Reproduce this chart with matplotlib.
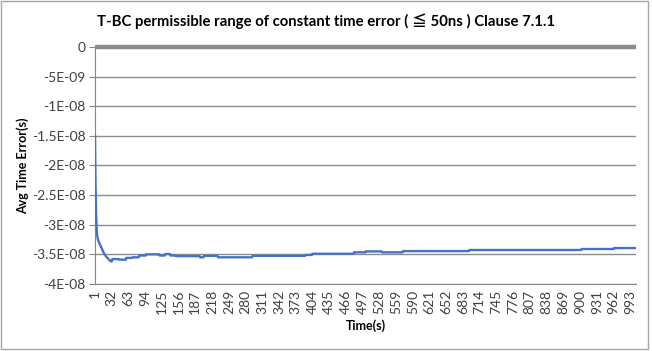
import numpy as np
import matplotlib
matplotlib.use("Agg")
import matplotlib.pyplot as plt
from matplotlib.patches import Rectangle

plt.rcParams['font.family'] = ['Lato', 'Noto Sans CJK JP', 'DejaVu Sans']

# first samples read one by one (ns)
head_ns = [-15.0, -23.0, -28.0, -30.5, -31.8, -32.3, -32.6, -32.9, -33.1, -33.3,
           -33.5, -33.7, -33.9, -34.1, -34.3, -34.5, -34.7, -34.9, -35.0, -35.1,
           -35.3, -35.4, -35.5, -35.6, -35.7, -35.8, -35.9, -36.0, -36.1, -36.1,
           -36.2, -36.2]
# flat runs after that: (last sample index, value in ns)
run_end = [45, 58, 70, 82, 95, 120, 130, 140, 150, 195, 202, 228, 292, 390,
           403, 480, 502, 532, 571, 694, 902, 962, 1004]
run_ns = [-35.8, -35.9, -35.6, -35.5, -35.2, -35.0, -35.2, -34.95, -35.2, -35.3,
          -35.5, -35.25, -35.5, -35.25, -35.1, -34.9, -34.66, -34.5, -34.66,
          -34.45, -34.27, -34.1, -33.94]

counts = np.diff([len(head_ns)] + run_end)
avg_te = np.concatenate([head_ns, np.repeat(run_ns, counts)]) * 1e-9
limit = np.zeros(len(avg_te))
t = np.arange(1, len(avg_te) + 1)

xticks = list(range(1, 1000, 31))
yticks = [0, -5e-9, -1e-8, -1.5e-8, -2e-8, -2.5e-8, -3e-8, -3.5e-8, -4e-8]
ylabels = ["0", "-5E-09", "-1E-08", "-1.5E-08", "-2E-08", "-2.5E-08", "-3E-08",
           "-3.5E-08", "-4E-08"]

fig = plt.figure(figsize=(6.52, 3.51), dpi=100)
fig.patches.append(Rectangle((0.001, 0.006), 0.993, 0.99, transform=fig.transFigure,
                             fill=False, edgecolor="#a6a6a6", linewidth=1))
ax = fig.add_axes([0.1457, 0.191, 0.830, 0.675])

ax.plot(t, limit, color="#8c8c8c", linewidth=3.2, solid_capstyle="butt",
        zorder=3, clip_on=False)
ax.plot(t, avg_te, color="#4472c4", linewidth=1.7, zorder=4)

ax.set_xlim(1, len(t))
ax.set_ylim(-4e-8, 0)
ax.set_yticks(yticks)
ax.set_yticklabels(ylabels)
ax.set_xticks(xticks)
ax.set_xticklabels([str(v) for v in xticks], rotation=90)
ax.tick_params(axis="y", length=4, color="#868686", labelsize=10,
               labelcolor="#404040", pad=3)
ax.tick_params(axis="x", length=0, labelsize=10, labelcolor="#404040", pad=4)
ax.grid(axis="y", color="#8c8c8c", linewidth=1)
ax.set_axisbelow(True)
for s in ["top", "right"]:
    ax.spines[s].set_visible(False)
for s in ["left", "bottom"]:
    ax.spines[s].set_color("#868686")

fig.text(0.5, 1 - 21 / 351,
         "T-BC permissible range of constant time error ( \u2266 50ns ) Clause 7.1.1",
         ha="center", va="center", fontsize=10.7, fontweight="bold", color="#000000")
ax.set_xlabel("Time(s)", fontsize=9, fontweight="bold", labelpad=4)
ax.set_ylabel("Avg Time Error(s)", fontsize=9, fontweight="bold")
ax.yaxis.set_label_coords(-0.122, 0.5)

fig.savefig("out.png", dpi=100)
